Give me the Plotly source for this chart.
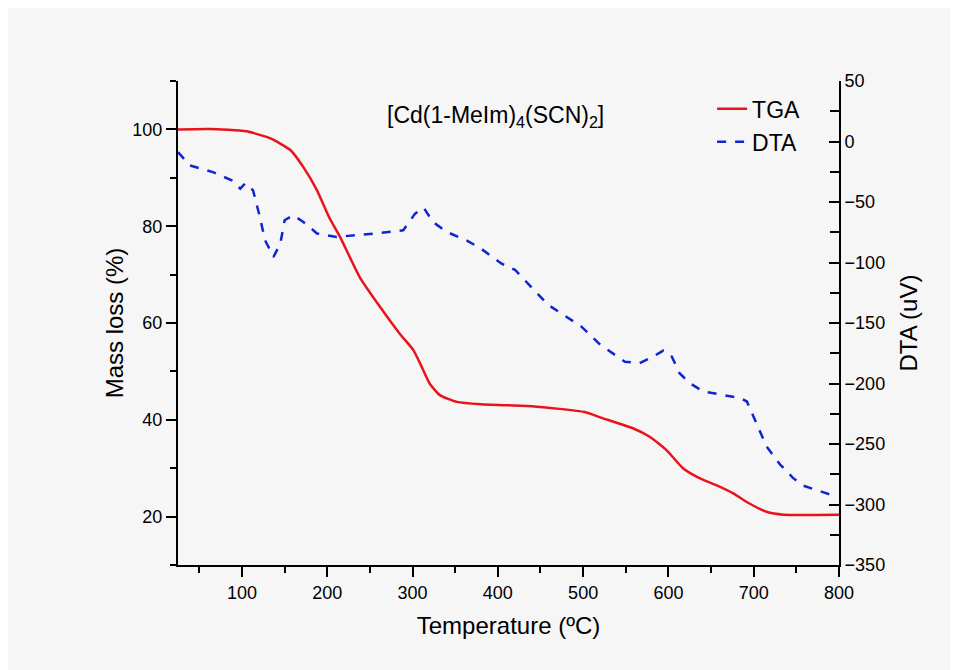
import plotly.graph_objects as go

# Data
tga_temp = [25, 62, 105, 134, 157, 172, 188, 202, 215, 238, 262, 285, 301, 309, 320, 332, 352, 380,
            440, 502, 520, 559, 578, 598, 617, 637, 656, 676, 695, 715, 735, 800]
tga_mass = [100, 100.1, 99.6, 98.1, 95.7, 92.2, 87.4, 81.9, 77.8, 69.5, 63.3, 57.8, 54.4, 51.6, 47.5, 45.1, 43.7, 43.2,
            42.8, 41.6, 40.5, 38.2, 36.5, 33.7, 30.0, 27.9, 26.5, 24.8, 22.7, 21.0, 20.4, 20.4]

dta_temp = [25, 39, 66, 88, 98, 104, 113, 121, 127, 137, 145, 150, 160, 172, 188, 211, 262, 289, 303, 313, 324, 340,
            363, 380, 404, 420, 459, 498, 520, 549, 566, 582, 594, 604, 613, 625, 641, 664, 684, 692, 699, 707, 715,
            731, 746, 758, 785, 795]
dta_uv = [-8.8, -19.8, -25.3, -32.1, -39, -34.4, -40.4, -62.4, -81.6, -95.3, -84.3, -65.1, -61, -66.5, -76, -78.9,
          -75.6, -73.4, -59.6, -54.7, -66.5, -74.7, -81.6, -88.4, -100.8, -106, -135, -153, -168, -182, -183.2,
          -177.8, -172.8, -177.8, -191.5, -199.7, -206.6, -209.3, -212, -214.9, -225.8, -238.2, -252, -267, -278,
          -284.4, -291, -293]

FONT = "Liberation Sans, Arial, sans-serif"

fig = go.Figure()
fig.add_trace(go.Scatter(x=tga_temp, y=tga_mass, name="TGA", mode="lines",
                         line=dict(color="#e8141c", width=2.5, shape="spline", smoothing=0.5)))
fig.add_trace(go.Scatter(x=dta_temp, y=dta_uv, name="DTA", mode="lines", yaxis="y2",
                         line=dict(color="#1024d2", width=2.5, dash="dash")))

axis_common = dict(showgrid=False, zeroline=False, showline=True, linecolor="black", linewidth=2,
                   ticks="outside", ticklen=10, tickwidth=2, tickcolor="black",
                   tickfont=dict(family=FONT, size=18, color="black"))

fig.update_layout(
    width=958, height=670,
    margin=dict(l=170, r=127, t=73, b=113),
    paper_bgcolor="#f6f6f6", plot_bgcolor="#f6f6f6",
    font=dict(family=FONT, color="black"),
    xaxis=dict(range=[25, 800], tick0=0, dtick=100, **axis_common,
               minor=dict(dtick=50, tick0=0, ticklen=6, tickwidth=2, tickcolor="black", ticks="outside"),
               title=dict(text="Temperature (ºC)", font=dict(family=FONT, size=24), standoff=16)),
    yaxis=dict(range=[10, 110], tick0=0, dtick=20, **axis_common,
               minor=dict(dtick=10, tick0=0, ticklen=6, tickwidth=2, tickcolor="black", ticks="outside"),
               title=dict(text="Mass loss (%)", font=dict(family=FONT, size=24), standoff=2)),
    yaxis2=dict(range=[-350, 50], tick0=0, dtick=50, overlaying="y", side="right",
                showgrid=False, zeroline=False, showline=True, linecolor="black", linewidth=2,
                ticks="inside", ticklen=10, tickwidth=2, tickcolor="black",
                tickfont=dict(family=FONT, size=18, color="black"),
                minor=dict(dtick=25, tick0=0, ticklen=9, tickwidth=2, tickcolor="black", ticks="inside"),
                title=dict(text="DTA (uV)", font=dict(family=FONT, size=24), standoff=16)),
    legend=dict(x=0.808, y=0.987, xanchor="left", yanchor="top", bgcolor="rgba(0,0,0,0)",
                font=dict(family=FONT, size=23), tracegroupgap=0),
    annotations=[dict(text="[Cd(1-MeIm)<sub>4</sub>(SCN)<sub>2</sub>]", xref="paper", yref="paper",
                      x=0.481, y=0.926, xanchor="center", yanchor="middle", showarrow=False,
                      font=dict(family=FONT, size=23, color="black"))],
)

fig.write_html("out.html")
